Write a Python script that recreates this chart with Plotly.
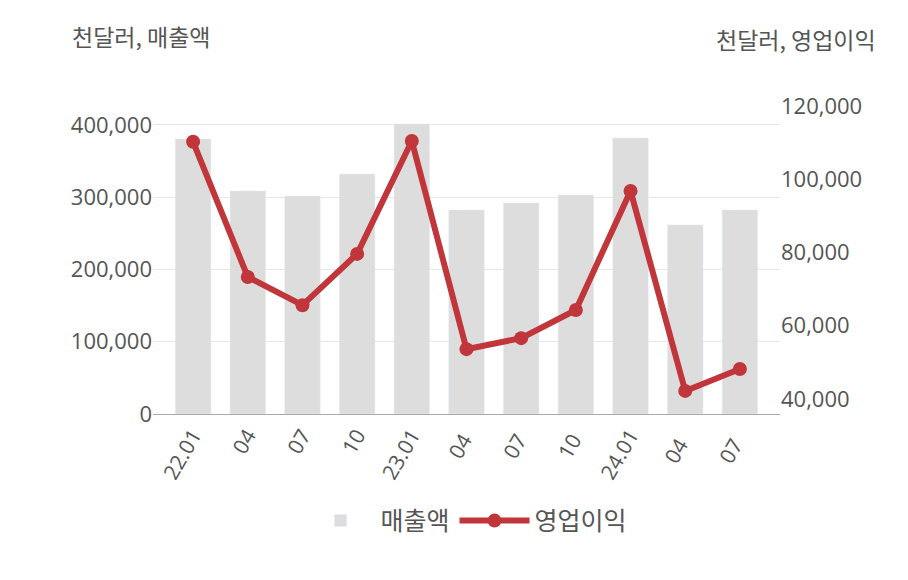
import plotly.graph_objects as go

categories = ["22.01","04","07","10","23.01","04 ","07 ","10 ","24.01","04  ","07  "]
sales = [380600,308700,301700,332200,401400,282400,292000,303100,382000,261600,282400]
op_income = [110200,73300,65600,79600,110400,53600,56600,64300,96800,42200,48200]

font = "Noto Sans CJK KR"
fig = go.Figure()
fig.add_trace(go.Bar(x=categories, y=sales, name="매출액", marker_color="#dddddd", width=0.65))
fig.add_trace(go.Scatter(x=categories, y=op_income, name="영업이익", yaxis="y2",
                         mode="lines+markers", line=dict(color="#c0363a", width=6),
                         marker=dict(size=14, color="#c0363a")))
fig.update_layout(
    width=908, height=580, plot_bgcolor="white", paper_bgcolor="white",
    margin=dict(l=145, r=136, t=88, b=174),
    font=dict(family="Open Sans", size=22, color="#555555"),
    xaxis=dict(tickangle=-60, showline=True, linecolor="#aaaaaa", ticks="", tickfont=dict(size=21)),
    yaxis=dict(range=[0, 440000], tickvals=[0,100000,200000,300000,400000], tickformat=",",
               gridcolor="#e6e6e6", zeroline=False, showline=False),
    yaxis2=dict(overlaying="y", side="right", range=[35900, 122700],
                tickvals=[40000,60000,80000,100000,120000], tickformat=",", showgrid=False, zeroline=False),
    legend=dict(orientation="h", x=0.5, xanchor="center", y=-0.336, yanchor="middle",
                font=dict(family=font, size=25), itemwidth=70),
    showlegend=True, bargap=0.3,
    annotations=[
        dict(text="천달러, 매출액", xref="paper", yref="paper", x=-0.132, y=1.19,
             xanchor="left", yanchor="middle", showarrow=False, font=dict(family=font, size=23)),
        dict(text="천달러, 영업이익", xref="paper", yref="paper", x=1.156, y=1.18,
             xanchor="right", yanchor="middle", showarrow=False, font=dict(family=font, size=23)),
    ],
)
fig.write_html("out.html")
